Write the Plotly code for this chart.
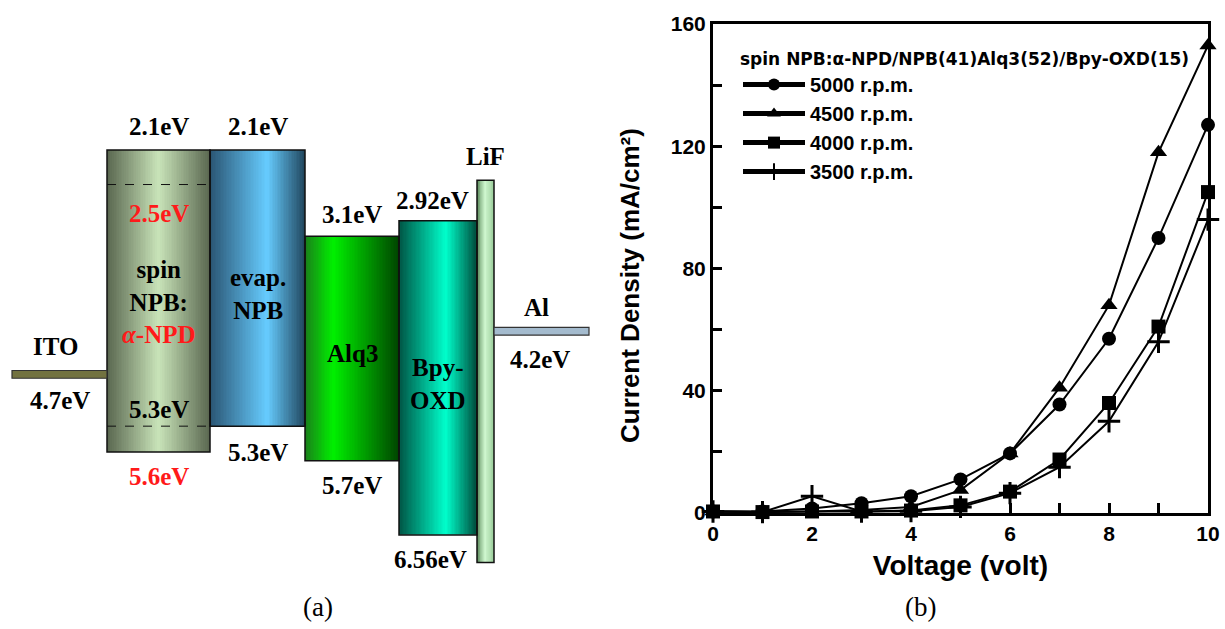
import numpy as np
import plotly.graph_objects as go

# ---------------- panel (b) data ----------------
voltage = [0, 1, 2, 3, 4, 5, 6, 7, 8, 9, 10]
j_5000 = [0.5, 0.5, 1.5, 3.2, 5.5, 11.0, 19.5, 35.5, 57.0, 90.0, 127.0]
j_4500 = [0.5, 0.3, 0.5, 1.0, 2.0, 7.5, 19.5, 41.0, 68.0, 118.0, 153.0]
j_4000 = [0.5, 0.3, 0.5, 0.5, 0.8, 2.5, 7.0, 17.5, 36.0, 61.0, 105.0]
j_3500 = [0.5, 0.3, 5.5, 0.5, 0.6, 2.0, 6.5, 15.0, 30.0, 56.0, 96.0]
series_names = ["5000 r.p.m.", "4500 r.p.m.", "4000 r.p.m.", "3500 r.p.m."]
legend_title = "spin NPB:α-NPD/NPB(41)Alq3(52)/Bpy-OXD(15)"
x_ticks = [0, 1, 2, 3, 4, 5, 6, 7, 8, 9, 10]
x_ticktext = ["0", "", "2", "", "4", "", "6", "", "8", "", "10"]
y_ticks = [0, 20, 40, 60, 80, 100, 120, 140, 160]
y_ticktext = ["0", "", "40", "", "80", "", "120", "", "160"]

# ---------------- panel (a) data ----------------
layer_names = ["spin NPB", "evap. NPB", "Alq3", "Bpy-OXD"]
lumo = [2.1, 2.1, 3.1, 2.92]
homo = [5.6, 5.3, 5.7, 6.56]
alpha_npd_levels = [2.5, 5.3]
ito_wf = 4.7
al_wf = 4.2
lif_span = [2.45, 6.88]

# ---------------- layout / style (not data) ----------------
layer_edges = [107, 210, 305, 399, 477]
lif_edges = [477, 494]
ito_edges = [12, 107]
al_edges = [494, 589]
layer_scales = [
    [[0, "#59664f"], [0.5, "#c9e4b9"], [1, "#59664f"]],
    [[0, "#2a5573"], [0.6, "#66ccff"], [1, "#20455c"]],
    [[0, "#1a801a"], [0.3, "#00f000"], [1, "#004400"]],
    [[0, "#005545"], [0.6, "#00ffcc"], [1, "#004a3a"]],
]
lif_scale = [[0, "#5a8a5a"], [0.45, "#d0f8d0"], [1, "#9acc9a"]]
symbols = ["circle", "triangle-up", "square", "cross-thin"]
sizes = [14, 15, 14, 16]

W, H = 1225, 629
SERIF = "Liberation Serif, Times New Roman, serif"
SANS = "Liberation Sans, Arial, sans-serif"

fig = go.Figure()

# ---- energy diagram (axis x2/y2) ----
def gradient(x0, x1, top, bottom, scale, n=60):
    xs = np.linspace(x0, x1, n + 1)
    t = (xs[:-1] + xs[1:]) / 2
    t = (t - x0) / (x1 - x0)
    fig.add_trace(go.Heatmap(
        x=xs, y=[top, bottom], z=[t.tolist()], zmin=0, zmax=1,
        colorscale=scale, showscale=False, hoverinfo="skip",
        xaxis="x2", yaxis="y2", showlegend=False))

for i in range(len(layer_names)):
    gradient(layer_edges[i], layer_edges[i + 1], lumo[i], homo[i], layer_scales[i])
gradient(lif_edges[0], lif_edges[1], lif_span[0], lif_span[1], lif_scale, n=20)

shapes = []
for i in range(len(layer_names)):
    shapes.append(dict(type="rect", xref="x2", yref="y2",
                       x0=layer_edges[i], x1=layer_edges[i + 1], y0=lumo[i], y1=homo[i],
                       line=dict(color="#111", width=1.5)))
shapes.append(dict(type="rect", xref="x2", yref="y2", x0=lif_edges[0], x1=lif_edges[1],
                   y0=lif_span[0], y1=lif_span[1], line=dict(color="#111", width=1.5)))
for lv in alpha_npd_levels:
    shapes.append(dict(type="line", xref="x2", yref="y2", x0=layer_edges[0], x1=layer_edges[1],
                       y0=lv, y1=lv, line=dict(color="#111", width=1, dash="dash")))
bar_half = 0.045
shapes.append(dict(type="rect", xref="x2", yref="y2", x0=ito_edges[0], x1=ito_edges[1],
                   y0=ito_wf - bar_half, y1=ito_wf + bar_half,
                   fillcolor="#727240", line=dict(color="#333", width=1.2)))
shapes.append(dict(type="rect", xref="x2", yref="y2", x0=al_edges[0], x1=al_edges[1],
                   y0=al_wf - bar_half, y1=al_wf + bar_half,
                   fillcolor="#a4bbce", line=dict(color="#333", width=1.2)))

centers = [(layer_edges[i] + layer_edges[i + 1]) / 2 for i in range(len(layer_names))]
ann = []
def lab(x, y, text, color="black", size=25):
    ann.append(dict(x=x, y=y, xref="x2", yref="y2", text=text, showarrow=False,
                    xanchor="center", yanchor="middle",
                    font=dict(family=SERIF, size=size, color=color)))

lab(centers[0], lumo[0] - 0.27, "<b>%.1feV</b>" % lumo[0])
lab(centers[1], lumo[1] - 0.27, "<b>%.1feV</b>" % lumo[1])
lab(centers[0], alpha_npd_levels[0] + 0.33, "<b>%.1feV</b>" % alpha_npd_levels[0], color="#ff1a1a")
lab(centers[0], 3.86, "<b>spin<br>NPB:<br><span style='color:#ff1a1a'><i>α</i>-NPD</span></b>")
lab(centers[1], 3.77, "<b>evap.<br>NPB</b>")
lab(centers[0], alpha_npd_levels[1] - 0.19, "<b>%.1feV</b>" % alpha_npd_levels[1])
lab(centers[0], homo[0] + 0.28, "<b>%.1feV</b>" % homo[0], color="#ff1a1a")
lab(centers[1], homo[1] + 0.31, "<b>%.1feV</b>" % homo[1])
lab((ito_edges[0] + ito_edges[1]) / 2 - 4, ito_wf - 0.32, "<b>ITO</b>")
lab((ito_edges[0] + ito_edges[1]) / 2, ito_wf + 0.30, "<b>%.1feV</b>" % ito_wf)
lab(centers[2], lumo[2] - 0.25, "<b>%.1feV</b>" % lumo[2])
lab(centers[2], 4.46, "<b>Alq3</b>")
lab(centers[2], homo[2] + 0.29, "<b>%.1feV</b>" % homo[2])
lab(centers[3] - 6, lumo[3] - 0.23, "<b>%.2feV</b>" % lumo[3])
lab(centers[3], 4.81, "<b>Bpy-<br>OXD</b>")
lab(centers[3] - 8, homo[3] + 0.29, "<b>%.2feV</b>" % homo[3])
lab((lif_edges[0] + lif_edges[1]) / 2, lif_span[0] - 0.27, "<b>LiF</b>")
lab((al_edges[0] + al_edges[1]) / 2 - 5, al_wf - 0.27, "<b>Al</b>")
lab((al_edges[0] + al_edges[1]) / 2 - 2, al_wf + 0.33, "<b>%.1feV</b>" % al_wf)

def pann(px, py, text, font, **kw):
    ann.append(dict(x=px / W, y=1 - py / H, xref="paper", yref="paper", text=text,
                    showarrow=False, xanchor="center", yanchor="middle", font=font, **kw))

pann(318, 607, "(a)", dict(family=SERIF, size=27, color="black"))
pann(920, 607, "(b)", dict(family=SERIF, size=27, color="black"))
pann(630, 285, "<b>Current Density (mA/cm²)</b>", dict(family=SANS, size=26, color="black"),
     textangle=-90)

# ---- J-V chart ----
for name, ys, sym, sz in zip(series_names, [j_5000, j_4500, j_4000, j_3500], symbols, sizes):
    fig.add_trace(go.Scatter(
        x=voltage, y=ys, name=name, mode="lines+markers", cliponaxis=False,
        line=dict(color="black", width=2),
        marker=dict(symbol=sym, size=sz, color="black",
                    line=dict(color="black", width=3 if sym == "cross-thin" else 0))))

E_top = 2.1 - 150 / 86.3
E_bot = 2.1 + (H - 150) / 86.3

fig.update_layout(
    template="none",
    width=W, height=H, autosize=False,
    margin=dict(l=0, r=0, t=0, b=0, pad=0, autoexpand=False),
    paper_bgcolor="white", plot_bgcolor="rgba(0,0,0,0)",
    shapes=shapes, annotations=ann,
    xaxis=dict(domain=[713 / W, 1208 / W], range=[0, 10], tickvals=x_ticks, ticktext=x_ticktext,
               automargin=False,
               ticks="inside", ticklen=10, tickwidth=3, tickcolor="black",
               showline=True, linewidth=3, linecolor="black", mirror=True, showgrid=False,
               zeroline=False, tickfont=dict(family=SANS, size=21, color="black", weight="bold"),
               title=dict(text="<b>Voltage (volt)</b>", standoff=12,
                          font=dict(family=SANS, size=28, color="black"))),
    yaxis=dict(domain=[1 - 513 / H, 1 - 24 / H], range=[0, 160], tickvals=y_ticks, ticktext=y_ticktext,
               automargin=False,
               ticks="inside", ticklen=9, tickwidth=3, tickcolor="black",
               showline=True, linewidth=3, linecolor="black", mirror=True, showgrid=False,
               zeroline=False, tickfont=dict(family=SANS, size=21, color="black", weight="bold")),
    xaxis2=dict(domain=[0, 600 / W], range=[0, 600], visible=False, anchor="y2", automargin=False),
    yaxis2=dict(domain=[0, 1], range=[E_bot, E_top], visible=False, anchor="x2", automargin=False),
    legend=dict(x=738 / W, y=1 - 43 / H, xanchor="left", yanchor="top",
                bgcolor="rgba(0,0,0,0)", itemwidth=62, itemsizing="constant",
                font=dict(family=SANS, size=20, color="black", weight="bold"),
                title=dict(text="<b>" + legend_title + "</b>", side="top",
                           font=dict(family="DejaVu Sans, sans-serif", size=17, color="black"))),
)

fig.write_html("out.html")
